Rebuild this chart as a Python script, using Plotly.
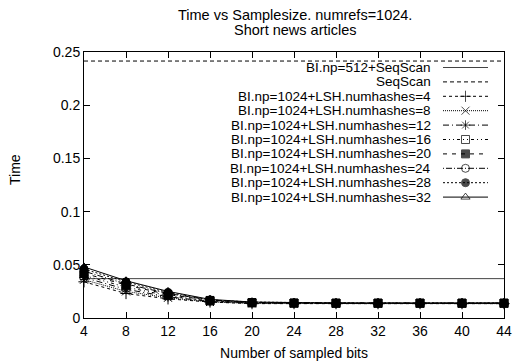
import plotly.graph_objects as go

# ---------------- data ----------------
sample_bits = [4, 8, 12, 16, 20, 24, 28, 32, 36, 40, 44]
x_tick_vals = [4, 8, 12, 16, 20, 24, 28, 32, 36, 40, 44]
y_tick_vals = [0, 0.05, 0.1, 0.15, 0.2, 0.25]
y_tick_text = ["0", "0.05", "0.1", "0.15", "0.2", "0.25"]

series_names = [
    "BI.np=512+SeqScan",
    "SeqScan",
    "BI.np=1024+LSH.numhashes=4",
    "BI.np=1024+LSH.numhashes=8",
    "BI.np=1024+LSH.numhashes=12",
    "BI.np=1024+LSH.numhashes=16",
    "BI.np=1024+LSH.numhashes=20",
    "BI.np=1024+LSH.numhashes=24",
    "BI.np=1024+LSH.numhashes=28",
    "BI.np=1024+LSH.numhashes=32",
]

bi512_seqscan = [0.037, 0.037, 0.037, 0.037, 0.037, 0.037, 0.037, 0.037, 0.037, 0.037, 0.037]
seqscan = [0.2415, 0.2415, 0.2415, 0.2415, 0.2415, 0.2415, 0.2415, 0.2415, 0.2415, 0.2415, 0.2415]
nh4 = [0.034, 0.023, 0.018, 0.015, 0.0135, 0.0135, 0.0135, 0.0135, 0.0135, 0.0135, 0.0135]
nh8 = [0.036, 0.025, 0.019, 0.015, 0.0138, 0.0135, 0.0135, 0.0135, 0.0136, 0.0135, 0.0135]
nh12 = [0.038, 0.027, 0.020, 0.0155, 0.014, 0.0138, 0.0137, 0.0137, 0.0137, 0.0137, 0.0137]
nh16 = [0.040, 0.029, 0.021, 0.016, 0.0142, 0.014, 0.0138, 0.0138, 0.0138, 0.0138, 0.0138]
nh20 = [0.042, 0.031, 0.022, 0.0165, 0.0145, 0.014, 0.014, 0.014, 0.014, 0.014, 0.014]
nh24 = [0.044, 0.032, 0.023, 0.017, 0.0145, 0.0141, 0.014, 0.014, 0.014, 0.014, 0.014]
nh28 = [0.046, 0.034, 0.024, 0.017, 0.015, 0.0142, 0.0141, 0.014, 0.014, 0.014, 0.0141]
nh32 = [0.048, 0.035, 0.025, 0.0175, 0.015, 0.0143, 0.0141, 0.0141, 0.0141, 0.0141, 0.0141]

series_values = [bi512_seqscan, seqscan, nh4, nh8, nh12, nh16, nh20, nh24, nh28, nh32]

# ---------------- styles ----------------
styles = [
    dict(dash="solid", symbol=None, color="#444444"),
    dict(dash="4px,3px", symbol=None, color="black"),
    dict(dash="3px,3px", symbol="cross-thin-open", color="black"),
    dict(dash="1px,1px", symbol="x-thin-open", color="black"),
    dict(dash="6px,3px,1px,3px", symbol="asterisk-open", color="black"),
    dict(dash="3px,3px,1px,3px,1px,3px", symbol="square-open", color="black"),
    dict(dash="4px,5px", symbol="square", color="black"),
    dict(dash="1px,2px,6px,2px", symbol="circle-open", color="black"),
    dict(dash="2px,2px", symbol="circle", color="black"),
    dict(dash="solid", symbol="triangle-up-open", color="black"),
]

FONT = "Liberation Sans, Arial, Helvetica, sans-serif"
FS = 14
TFS = 14.5
LFS = 13.5

W, H = 513, 363
ML, MR, MT, MB = 84, 9, 52, 45
PLOT_H = H - MT - MB
PLOT_W = W - ML - MR


def paper_y(py):
    return (H - MB - py) / PLOT_H


def paper_x(px):
    return (px - ML) / PLOT_W


fig = go.Figure()

for name, vals, st in zip(series_names, series_values, styles):
    mode = "lines+markers" if st["symbol"] else "lines"
    tr = dict(
        x=sample_bits, y=vals, name=name, mode=mode, showlegend=False,
        line=dict(color=st["color"], width=1, dash=st["dash"]),
        cliponaxis=False,
    )
    if st["symbol"]:
        tr["marker"] = dict(symbol=st["symbol"], size=8, color="black",
                            line=dict(color="black", width=1))
    fig.add_trace(go.Scatter(**tr))

# ---------------- custom gnuplot-style legend (pixel overlay axes) ----------------
px_left, px_right = ML, W - MR
px_top, px_bottom = MT, H - MB
leg_text_right = 433
leg_sample_x0, leg_sample_x1 = 443, 488
leg_row0, leg_row_step = 67.5, 14.4

annotations = []
for i, (name, st) in enumerate(zip(series_names, styles)):
    ry = leg_row0 + i * leg_row_step
    xm = (leg_sample_x0 + leg_sample_x1) / 2
    tr = dict(
        x=[leg_sample_x0, xm, leg_sample_x1], y=[ry, ry, ry],
        xaxis="x2", yaxis="y2", showlegend=False, hoverinfo="skip",
        mode="lines+markers" if st["symbol"] else "lines",
        line=dict(color=st["color"], width=1, dash=st["dash"]),
        cliponaxis=False,
    )
    if st["symbol"]:
        tr["marker"] = dict(symbol=st["symbol"], size=[0, 8, 0], color="black",
                            line=dict(color="black", width=1))
    fig.add_trace(go.Scatter(**tr))
    annotations.append(dict(
        x=leg_text_right, y=paper_y(ry), xref="x2", yref="paper", text=name,
        showarrow=False, xanchor="right", yanchor="middle",
        font=dict(family=FONT, size=LFS, color="black"),
    ))

# title lines
annotations.append(dict(x=paper_x(295), y=paper_y(15), xref="paper", yref="paper",
                        text="Time vs Samplesize. numrefs=1024.", showarrow=False,
                        xanchor="center", yanchor="middle",
                        font=dict(family=FONT, size=TFS, color="black")))
annotations.append(dict(x=paper_x(295), y=paper_y(30), xref="paper", yref="paper",
                        text="Short news articles", showarrow=False,
                        xanchor="center", yanchor="middle",
                        font=dict(family=FONT, size=TFS, color="black")))
# y axis label (gnuplot places it slightly above plot centre)
annotations.append(dict(x=paper_x(15), y=paper_y(170), xref="paper", yref="paper",
                        text="Time", showarrow=False, textangle=-90,
                        xanchor="center", yanchor="middle",
                        font=dict(family=FONT, size=FS, color="black")))

fig.update_layout(
    template="none",
    width=W, height=H,
    margin=dict(l=ML, r=MR, t=MT, b=MB, pad=0),
    paper_bgcolor="white", plot_bgcolor="white",
    font=dict(family=FONT, size=FS, color="black"),
    showlegend=False,
    annotations=annotations,
    xaxis=dict(
        range=[4, 44], tickvals=x_tick_vals, ticks="inside", ticklen=6,
        tickcolor="black", showline=True, linecolor="black", linewidth=1,
        mirror="ticks", showgrid=False, zeroline=False,
        ticklabeloverflow="allow",
        tickfont=dict(family=FONT, size=FS, color="black"),
        title=dict(text="Number of sampled bits", font=dict(family=FONT, size=FS, color="black"), standoff=10),
    ),
    yaxis=dict(
        range=[0, 0.25], tickvals=y_tick_vals, ticktext=y_tick_text,
        ticks="inside", ticklen=6, tickcolor="black",
        showline=True, linecolor="black", linewidth=1, mirror="ticks",
        showgrid=False, zeroline=False, ticklabelstandoff=0,
        ticklabeloverflow="allow",
        tickfont=dict(family=FONT, size=FS, color="black"),
    ),
    xaxis2=dict(overlaying="x", range=[px_left, px_right], visible=False, fixedrange=True),
    yaxis2=dict(overlaying="y", range=[px_bottom, px_top], visible=False, fixedrange=True),
)

fig.write_html(
    "out.html",
    config={"displayModeBar": False, "staticPlot": True},
    post_script="document.body.style.margin='0';document.body.style.overflow='hidden';",
)
